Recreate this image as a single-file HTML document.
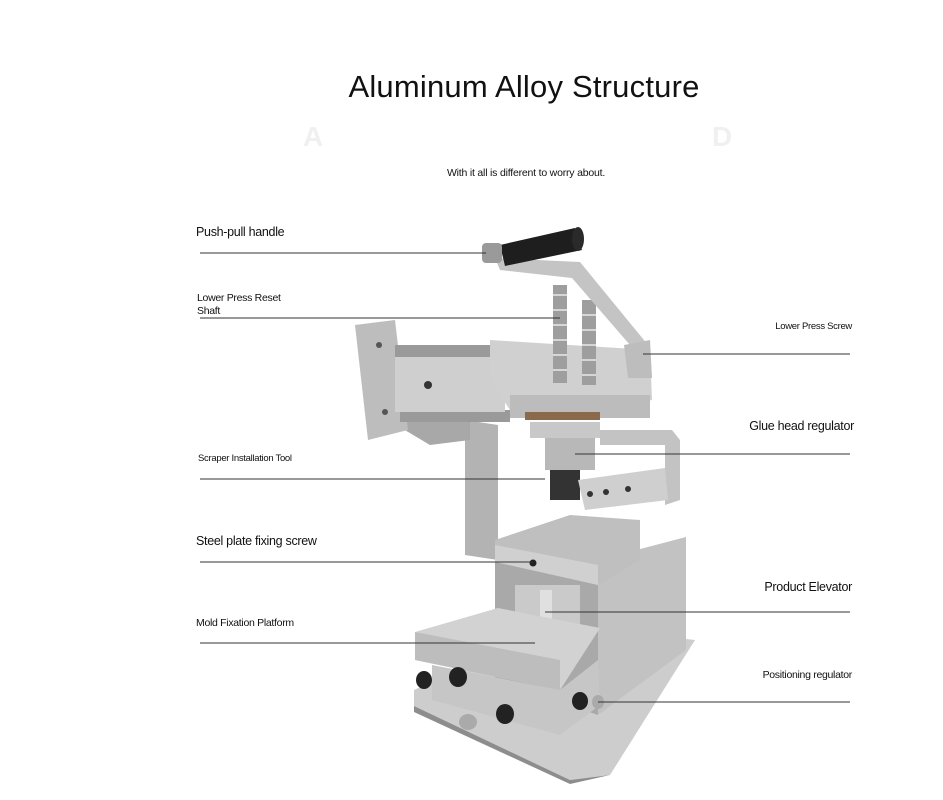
<!DOCTYPE html>
<html><head><meta charset="utf-8"><style>
html,body{margin:0;padding:0;background:#fff;}
svg{display:block}
text{font-family:"Liberation Sans",sans-serif;fill:#111}
</style></head><body>
<svg width="943" height="800" viewBox="0 0 943 800" xmlns="http://www.w3.org/2000/svg">
<rect width="943" height="800" fill="#fff"/>
<text x="524" y="97" font-size="31" text-anchor="middle" letter-spacing="0.2">Aluminum Alloy Structure</text>
<text x="303" y="146" font-size="28" font-weight="bold" style="fill:#f0f0f0">A</text>
<text x="712" y="146" font-size="28" font-weight="bold" style="fill:#f0f0f0">D</text>
<text x="526" y="176" font-size="10.5" text-anchor="middle" letter-spacing="-0.2">With it all is different to worry about.</text>

<g stroke="none">
 <polygon points="414,690 560,625 695,640 610,775 570,780 414,706" fill="#cdcdcd"/>
 <polygon points="414,706 570,780 610,775 570,784 414,712" fill="#8d8d8d"/>
 <polygon points="598,560 686,537 686,650 598,715" fill="#c2c2c2"/>
 <polygon points="495,550 598,560 598,715 495,680" fill="#a9a9a9"/>
 <polygon points="465,420 498,425 498,560 465,555" fill="#b3b3b3"/>
 <polygon points="388,420 470,420 470,440 430,445" fill="#a8a8a8"/>
 <polygon points="355,325 395,320 408,430 368,440" fill="#bdbdbd"/>
 <circle cx="379" cy="345" r="3" fill="#555"/><circle cx="385" cy="412" r="3" fill="#555"/>
 <rect x="395" y="345" width="110" height="12" fill="#9a9a9a"/>
 <rect x="400" y="410" width="110" height="12" fill="#9a9a9a"/>
 <rect x="395" y="357" width="110" height="55" fill="#cfcfcf"/>
 <circle cx="428" cy="385" r="4" fill="#333"/>
 <polygon points="490,340 650,350 652,400 600,410 510,410 490,380" fill="#d0d0d0"/>
 <polygon points="510,395 650,395 650,418 510,418" fill="#bcbcbc"/>
 <rect x="525" y="412" width="75" height="8" fill="#8a6a4a"/>
 <rect x="553" y="285" width="14" height="98" fill="#9e9e9e"/>
 <rect x="582" y="300" width="14" height="85" fill="#9e9e9e"/>
 <g stroke="#e8e8e8" stroke-width="1.5">
  <line x1="553" y1="295" x2="567" y2="295"/><line x1="553" y1="310" x2="567" y2="310"/><line x1="553" y1="325" x2="567" y2="325"/><line x1="553" y1="340" x2="567" y2="340"/><line x1="553" y1="355" x2="567" y2="355"/><line x1="553" y1="370" x2="567" y2="370"/>
  <line x1="582" y1="315" x2="596" y2="315"/><line x1="582" y1="330" x2="596" y2="330"/><line x1="582" y1="345" x2="596" y2="345"/><line x1="582" y1="360" x2="596" y2="360"/><line x1="582" y1="375" x2="596" y2="375"/>
 </g>
 <polygon points="495,258 580,262 648,345 636,352 572,278 500,270" fill="#c4c4c4"/>
 <polygon points="624,345 650,340 652,378 628,378" fill="#bdbdbd"/>
 <polygon points="500,245 575,228 582,250 505,266" fill="#1e1e1e"/>
 <ellipse cx="578" cy="239" rx="6" ry="12" fill="#2a2a2a"/>
 <rect x="482" y="243" width="20" height="20" rx="4" fill="#9a9a9a"/>
 <rect x="530" y="422" width="70" height="16" fill="#c8c8c8"/>
 <rect x="545" y="438" width="50" height="32" fill="#b8b8b8"/>
 <rect x="550" y="470" width="30" height="30" fill="#333"/>
 <path d="M600,430 L672,430 L680,440 L680,500 L665,505 L665,445 L600,445 Z" fill="#c3c3c3"/>
 <polygon points="578,480 665,468 668,500 585,510" fill="#cfcfcf"/>
 <circle cx="590" cy="494" r="3" fill="#333"/><circle cx="606" cy="492" r="3" fill="#333"/><circle cx="628" cy="489" r="3" fill="#333"/>
 <polygon points="495,540 570,515 640,520 640,560 598,585 495,560" fill="#bfbfbf"/>
 <polygon points="495,545 598,565 598,585 495,562" fill="#d0d0d0"/>
 <circle cx="533" cy="563" r="3.5" fill="#222"/>
 <rect x="515" y="585" width="65" height="45" fill="#cacaca"/>
 <rect x="540" y="590" width="12" height="40" fill="#e0e0e0"/>
 <polygon points="415,632 498,608 600,628 560,690 415,660" fill="#d2d2d2"/>
 <polygon points="415,632 560,660 560,690 415,660" fill="#bdbdbd"/>
 <polygon points="432,665 560,690 598,660 600,705 560,735 432,700" fill="#c6c6c6"/>
 <ellipse cx="424" cy="680" rx="8" ry="9" fill="#222"/><ellipse cx="458" cy="677" rx="9" ry="10" fill="#222"/>
 <ellipse cx="505" cy="714" rx="9" ry="10" fill="#222"/><ellipse cx="580" cy="701" rx="8" ry="9" fill="#222"/>
 <ellipse cx="468" cy="722" rx="9" ry="8" fill="#aaa"/><ellipse cx="598" cy="702" rx="6" ry="7" fill="#aaa"/>
</g>

<g stroke="#333" stroke-width="1">
 <line x1="200" y1="253" x2="486" y2="253"/>
 <line x1="200" y1="318" x2="560" y2="318"/>
 <line x1="643" y1="354" x2="850" y2="354"/>
 <line x1="575" y1="454" x2="850" y2="454"/>
 <line x1="200" y1="479" x2="545" y2="479"/>
 <line x1="200" y1="562" x2="532" y2="562"/>
 <line x1="545" y1="612" x2="850" y2="612"/>
 <line x1="200" y1="643" x2="535" y2="643"/>
 <line x1="598" y1="702" x2="850" y2="702"/>
</g>

<g>
 <text x="196" y="236" font-size="12.5" letter-spacing="-0.3">Push-pull handle</text>
 <text x="197" y="301" font-size="10.5" letter-spacing="-0.3">Lower Press Reset</text>
 <text x="197" y="314" font-size="10.5" letter-spacing="-0.3">Shaft</text>
 <text x="852" y="329" font-size="9.5" text-anchor="end" letter-spacing="-0.3">Lower Press Screw</text>
 <text x="854" y="430" font-size="12.5" text-anchor="end" letter-spacing="-0.3">Glue head regulator</text>
 <text x="198" y="461" font-size="9.5" letter-spacing="-0.3">Scraper Installation Tool</text>
 <text x="196" y="545" font-size="12.5" letter-spacing="-0.3">Steel plate fixing screw</text>
 <text x="852" y="591" font-size="12.5" text-anchor="end" letter-spacing="-0.3">Product Elevator</text>
 <text x="196" y="626" font-size="10.5" letter-spacing="-0.3">Mold Fixation Platform</text>
 <text x="852" y="678" font-size="10.5" text-anchor="end" letter-spacing="-0.3">Positioning regulator</text>
</g>
</svg>
</body></html>
